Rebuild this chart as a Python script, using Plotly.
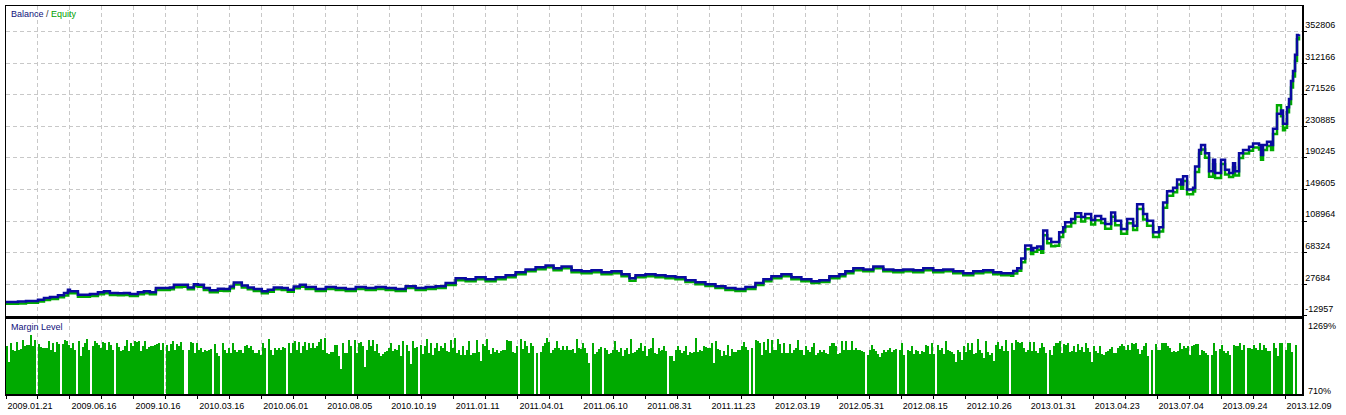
import plotly.graph_objects as go

# ---------------- data ----------------
date_labels = ["2009.01.21", "2009.06.16", "2009.10.16", "2010.03.16", "2010.06.01", "2010.08.05",
               "2010.10.19", "2011.01.11", "2011.04.01", "2011.06.10", "2011.08.31", "2011.11.23",
               "2012.03.19", "2012.05.31", "2012.08.15", "2012.10.26", "2013.01.31", "2013.04.23",
               "2013.07.04", "2013.09.24", "2013.12.09"]

y_ticks = [-12957, 27684, 68324, 108964, 149605, 190245, 230885, 271526, 312166, 352806]

deal_idx = [0, 4, 6, 10, 14, 16, 19, 22, 26, 29, 31, 32, 36, 39, 42, 46, 49, 52, 56, 59, 62, 66, 69, 72, 75,
            79, 82, 84, 88, 91, 94, 96, 99, 102, 106, 109, 112, 114, 118, 121, 124, 128, 131, 134, 138, 141, 144, 147,
            150, 155, 160, 165, 170, 175, 180, 185, 190, 195, 200, 205, 210, 215, 220, 225, 230, 235, 240, 245,
            250, 255, 260, 265, 270, 274, 278, 283, 288, 293, 298, 303, 308, 312, 315, 320, 325, 330, 335, 340,
            345, 350, 355, 360, 365, 370, 375, 379, 383, 388, 393, 398, 403, 407, 412, 417, 420, 424, 429, 434,
            439, 444, 449, 454, 459, 464, 469, 474, 479, 484, 489, 494, 498,
            499, 503, 504, 506, 508, 510, 513, 514, 516, 518, 519, 521, 523, 525, 527, 529, 530, 533, 535, 538,
            540, 543, 545, 548, 550, 553, 555, 558, 561, 564, 566, 569, 571, 574, 577, 579, 581, 584, 586, 588,
            589, 591, 594, 595, 597, 598, 600, 602, 604, 605, 608, 610, 612, 614, 615, 617, 619, 622, 624, 627,
            628, 629, 631, 633, 634, 636, 638, 639, 640, 641, 642, 643, 644, 645, 646, 647]

balance = [4800, 4800, 5400, 6100, 6100, 7700, 9900, 11200, 13300, 16300, 20400, 18400, 14100, 14100, 15000,
           17100, 18400, 16300, 15900, 16300, 15000, 17100, 18400, 17100, 22600, 22600, 23500, 26800, 26800, 23500,
           27700, 26800, 22600, 19700, 21700, 21300, 24800, 29800, 26000, 23500, 21300, 18400, 20400, 23500, 22600,
           20400, 24800, 26800,
           23900, 21300, 23900, 22600, 21300, 23900, 22600, 23900, 22600, 21300, 25100, 22600, 23900, 25100, 29000,
           35300, 34000, 36600, 34000, 36600, 39100, 42900, 46700, 49300, 51800, 48000, 50500, 45500, 44200, 45500,
           42900, 44200, 40400, 35300, 39100, 40400, 39100, 37800, 36600, 32800, 30200, 27700, 25100, 22600, 21300,
           23900, 29000, 34000, 37800, 40400, 36600, 34000, 31500, 32800, 37800, 40400, 44200, 48000, 46700, 50500,
           46700, 45500, 46700, 45500, 48000, 45500, 46700, 44200, 41700, 44200, 45500, 42900, 41700,
           41700, 41700, 44600, 48000, 60700, 77600, 71200, 74300, 76300, 73400, 96600, 86100, 81900, 81900, 94600,
           101000, 107300, 111500, 119100, 114000, 117900, 110200, 115300, 111500, 105200, 120000, 109300, 98800,
           111500, 103000, 130600, 117900, 109300, 94600, 100900, 132700, 147400, 151700, 162300, 155900, 166500,
           149600, 151700, 179200, 200400, 206700, 196200, 172900, 187700, 170800, 187700, 175000, 170800, 183500,
           172900, 196200, 200400, 204600, 208900, 206700, 194100, 206700, 210900, 206700, 227900, 247000, 251200,
           234300, 234300, 255400, 266100, 289300, 302000, 323200, 348600, 349400]

equity = [2300, 2300, 2900, 3600, 3600, 5200, 7400, 8700, 10800, 13000, 17900, 15900, 11600, 11600, 12500,
          14600, 15900, 13800, 13400, 13800, 12500, 14600, 15900, 14600, 20100, 20100, 21000, 23600, 24300, 21000,
          25200, 24300, 20100, 17200, 19200, 18800, 22300, 27300, 23500, 21000, 18800, 15900, 17900, 21000, 20100,
          17900, 22300, 24300,
          21400, 18800, 21400, 20100, 18800, 21400, 20100, 21400, 20100, 18800, 22600, 20100, 21400, 22600, 26500,
          32800, 31500, 34100, 31500, 34100, 36600, 40400, 44200, 46800, 49300, 45500, 48000, 43000, 41700, 43000,
          40400, 41700, 37900, 32000, 36600, 37900, 36600, 35300, 34100, 30300, 27700, 25200, 22600, 20100, 18800,
          21400, 26500, 31500, 35300, 37900, 34100, 31500, 29000, 30300, 35300, 37900, 41700, 45500, 44200, 48000,
          44200, 43000, 44200, 43000, 45500, 43000, 44200, 41700, 39200, 41700, 43000, 40400, 39200,
          39200, 38500, 41500, 45000, 56000, 72500, 66500, 69500, 72000, 68000, 90500, 80500, 76500, 77000, 88500,
          95500, 102000, 106500, 114500, 108500, 112500, 104500, 110000, 106500, 99000, 114500, 103500, 92500,
          106000, 97500, 124500, 111000, 103000, 88500, 95500, 126000, 141500, 146000, 156000, 150500, 160500,
          143500, 147000, 172000, 195500, 201000, 190500, 166000, 182000, 164500, 182500, 169000, 165500, 178000,
          167500, 190000, 196000, 199500, 203500, 201000, 188000, 200500, 205500, 200500, 221000, 258000, 244000,
          226000, 229000, 249000, 259500, 281000, 295000, 315000, 343000, 347000]

G = None  # no margin bar drawn for that deal
margin_level = [
    1063, 948, 1087, 1038, 1026, 1099, 1038, 1046, 1111, 1068, 1072, 1075, 1148, 1068, 1111, G,
    1082, 1058, 1055, 1055, 1055, 1104, 1038, 1087, 1019, 1099, 1082, G,
    1082, 1111, 1104, 1075, 1050, 1087, 1038, G,
    1106, 995, 1058, 1087, 1116, 1038, G,
    1063, 1106, 1092, 1075, 1050, 1099, 1087, 1038, 1099, 1072, 1038, G,
    1087, 1058, 1026, 1038, 1063, 1111, 1026, 1087, 1063, 1106, 1099, 1106, 1031, 1063, 1106, 1043, 1058, 1063,
    1068, 1075, 1082, 1092, 1038, 1092, G,
    1075, 1026, 1082, 1106, 1038, 1082, 1063, 1099, 1040, G, G,
    1038, 1099, 1087, 1014, 1087, 1038, 1048, 1019, 1038, 1031, 1038, 1043, G,
    1082, 1014, 990, G,
    1087, 1038, 1014, 1050, 1014, 1087, 1038, 1019, 1038, 1038, 1014, 1063, 1075, 1050, 1063, 1038, 1014, 1014,
    1038, 1002, 1087, 1050, G,
    1116, 1038, 1002, 1050, 1038, 1050, 1038, 1058, 1050, G,
    1087, 1014, 1087, 1106, 1038, 1099, 1014, 1063, 1099, 1038, 1087, 1050, 1087, 1050, 1068, 1099, 1116, 1038,
    1123, 1014, 1009,
    1019, 1019, 1075, 1075, 990, 892, 1092, 1014, 1014, 1111, 1063, G,
    1111, 1014, 1092, 1099, 1063, 912, 1038, 1111, 1063, 1111, 1026, 1082, 1014, 990, 1009, 1019, 1026, 1050,
    1092, 1026, 1043, 1038, 1075, 990, 1106, G,
    1075, 1026, 934, 1106, 1050, 1058, G,
    1075, 1009, 1068, 1116, 1014, 1087, 1002, 1050, 1092, 1026, 1068, 1050, 1087, 1026, 1019, 1111, 1050, 1123,
    1014, 1038, 1002, 1068, 1002, 1038, 1106, 1002, 1014, 1014, 1111, 1019, 953, 1082, 1068, 1116, 1038, 1009,
    1050, 1019, 1038, 1014, 1026, 1038, 1038, 1111, 1106, 1106, 1019, 1014, 1063, G,
    1116, 1043, 1106, 1068, 1014, 1092, 1063, G, 1014, G,
    1019, 1068, 1087, 1123, 1099, 1014, 1038, 1050, 1106, 1050, 1038, 1068, 1038, 1068, 1038, 1033, 1043, 1014,
    1116, 1050, 1043, 1087, 1050, 1014, 941, G,
    1092, 1009, 1019, 1043, 1058, G,
    1050, 1038, 1009, 1014, 1038, 1106, 1038, 1019, 1050, 995, 1038, 1055, 1009, 1116, 1014, 1019, 1038, 1050,
    1087, 1026, 1063, 995, 1043, 1050, 1123, 1014,
    1009, 1050, 1031, 1038, 1063, 1026, G,
    990, 990, 953, 1038, 1063, 1038, 1014, 1026, 1063, 1002, 1019, 1014, 1019, 1128, 1019, 1038, 1026, 1063,
    1058, 1050, 1050, 1087, 941, 1106, 1043, 1038, 990, 1031, 1002, 1077, 990, 1046, 1021, 1021, 1038, 1038,
    1068, 1099, 1058, 1038, G, 1050, G,
    1111, 1106, 1087, 1002, 1099, 1033, 1116, 1014, 1111, 1038, 1038, 1116, 1082, 1014, 1087, 1014, 1014, 1082,
    1014, 1038, 1050, 1111, 1038, 1038, 1002, 1068, 1038, 1019, 1058, 1092, 1002, 1014, 1038, 1019, 1038, 1014,
    1009, 1063, 1092, 1087, 1063, 1009, 1014, 1106, 1038, 1106, 1038, 1038, 1106, 1038, 1050, 1038, 1038, 1031,
    1019, G,
    1002, 1038, 1075, 1043, 1026, 1009, 982, 1014, 1038, 1019, 1038, 1050, 1019, 1038, 1043, G,
    1038, 1087, 1002, G,
    1038, 1026, 1068, 1007, 1038, 1026, 1007, 1026, 1019, 1070, 1063, 1007, 1092, 1009, G,
    1075, 1038, 1055, 1007, 1106, 1038, 1026, 1019, 1009, 948, 1038, 1019, 965, 1063, 1019, 1087, 1033, 1092,
    1009, 1014, 1121, 1038,
    1014, 977, 1106, 1019, 1002, 1014, 958, 1075, 1099, 1043, 1063, 1026, 1111, 1026, G,
    1087, 1038, 1111, 1099, 1087, 1099, 1050, 1019, 1038, 1099, 1026, 1099, 1026, 1014, 1050, 1092, 1058, 1014, G,
    1038, 1002, 1068, 1087, 1092, 1106, 1014, 1082, 1075, 1092, 1019, 1026, 1068, 1019, 1082, 1038, 1058, 1019,
    1087, 1050, 1019, 948, 1063, 1026, 1014, 1063, 1009, 1002, 1019, 1031, 1046, 1058, 1014, 1014, 1050, 1063,
    1082, 1068, 1033, 1077, 1038, 1087, 1082, 1092, 1043, 1009, 1038, 1068, 1092, 995, G, 1038, G,
    1080, 1038, 1038, 1087, 1087, 1092, 1063, 1050, 1019, 1026, 1019, 1026, 1087, 1046, 1063, 1050, 1063, 1002,
    1063, 1075, 1082, 1080, 1002, 1033, 1026, 1014, 1002, G,
    1002, 1092, 1026, G,
    1043, 1075, 1026, 1014, 1026, 1002, G,
    1075, 1068, 1068, 1087, 1038, 1075, G,
    1048, 1050, 1046, 1075, 1050, 1038, 1087, 1038, 1077, 1050, 1026, 1026, G,
    1087, 1050, 995, 1087, 1092, G,
    1038, 1087, 1092, 1024, G,
    1077]

# ---------------- styles ----------------
FONT = "Liberation Sans, Arial, sans-serif"
GRID = "#C8C8C8"
BLUE = "#0A0AA0"
GREEN = "#00AA00"

W, H = 1346, 415
ML, MR, MT, MB = 5, 44, 4, 17
plot_h = H - MT - MB
top_domain = [(H - MB - 318.5) / plot_h, 1.0]
bot_domain = [0.0, (H - MB - 321.5) / plot_h]
X_RANGE = [0, 648.5]

x_tickvals = list(range(0, 641, 16))
x_ticktext = [date_labels[i // 2] if i % 2 == 0 else "" for i in range(len(x_tickvals))]

fig = go.Figure()
fig.add_trace(go.Scatter(x=deal_idx, y=equity, mode="lines", line=dict(color=GREEN, width=2.5, shape="hv"),
                         xaxis="x", yaxis="y", name="Equity", showlegend=False))
fig.add_trace(go.Scatter(x=deal_idx, y=balance, mode="lines", line=dict(color=BLUE, width=2.5, shape="hv"),
                         xaxis="x", yaxis="y", name="Balance", showlegend=False))
fig.add_trace(go.Bar(x=[i + 0.5 for i in range(len(margin_level))], y=margin_level, width=1,
                     marker=dict(color=GREEN, line=dict(width=0)), xaxis="x2", yaxis="y2",
                     name="Margin Level", showlegend=False))

axis_common = dict(showline=True, linecolor="black", linewidth=1.5, mirror=True, zeroline=False)

fig.update_layout(
    width=W, height=H,
    margin=dict(l=ML, r=MR, t=MT, b=MB, pad=0),
    paper_bgcolor="white", plot_bgcolor="white",
    font=dict(family=FONT, size=9, color="black"),
    bargap=0,
    hovermode=False,
    xaxis=dict(domain=[0, 1], anchor="y", range=X_RANGE, tickvals=x_tickvals, showticklabels=False,
               ticks="", showgrid=True, gridcolor=GRID, griddash="4px,3px", gridwidth=1, **axis_common),
    yaxis=dict(domain=top_domain, anchor="x", range=[y_ticks[0], 385822], side="right",
               tickvals=y_ticks, ticktext=[str(v) for v in y_ticks], ticks="outside", ticklen=3,
               tickcolor="black", ticklabelposition="outside top",
               showgrid=True, gridcolor=GRID, griddash="4px,3px", gridwidth=1, **axis_common),
    xaxis2=dict(domain=[0, 1], anchor="y2", range=X_RANGE, tickvals=x_tickvals, ticktext=x_ticktext,
                ticks="outside", ticklen=3, tickcolor="black", ticklabelshift=24,
                showgrid=True, gridcolor=GRID, griddash="4px,3px", gridwidth=1, **axis_common),
    yaxis2=dict(domain=bot_domain, anchor="x2", range=[710, 1269], side="right", showticklabels=False,
                ticks="", showgrid=False, **axis_common),
)

def px_x(px):
    return (px - ML) / (W - ML - MR)

def px_y(py):
    return (H - MB - py) / plot_h

fig.add_annotation(x=px_x(8), y=px_y(12.5), xref="paper", yref="paper", xanchor="left", yanchor="middle",
                   showarrow=False, font=dict(size=9, family=FONT),
                   text='<span style="color:#10107A">Balance</span><span style="color:#333333"> / </span>'
                        '<span style="color:#00A000">Equity</span>')
fig.add_annotation(x=px_x(8), y=px_y(329.5), xref="paper", yref="paper", xanchor="left", yanchor="middle",
                   showarrow=False, font=dict(size=9, family=FONT, color="#10107A"), text="Margin Level")
fig.add_annotation(x=px_x(1306), y=px_y(329), xref="paper", yref="paper", xanchor="left", yanchor="middle",
                   showarrow=False, font=dict(size=9, family=FONT, color="black"), text="1269%")
fig.add_annotation(x=px_x(1306), y=px_y(395), xref="paper", yref="paper", xanchor="left", yanchor="middle",
                   showarrow=False, font=dict(size=9, family=FONT, color="black"), text="710%")

fig.write_html("out.html", config={"displayModeBar": False, "staticPlot": True},
               post_script="document.body.style.margin='0';document.body.style.overflow='hidden';")
